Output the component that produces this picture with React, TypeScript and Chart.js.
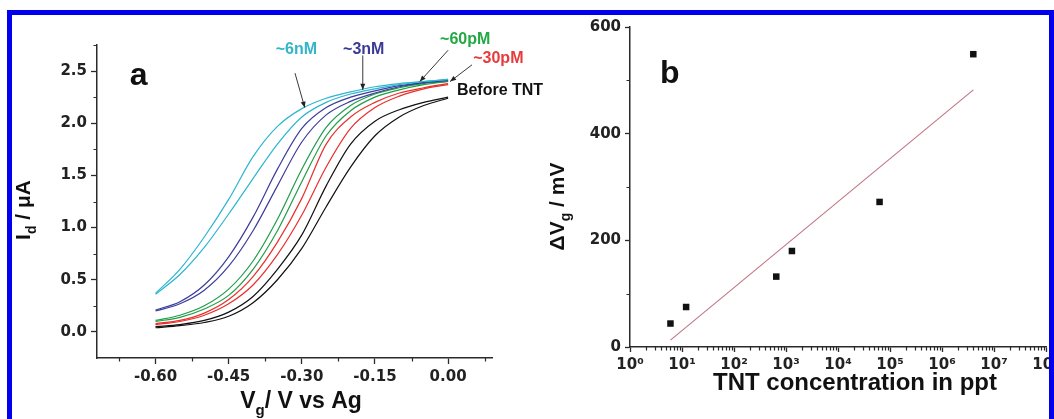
import React, { useEffect, useRef } from "react";
import { Chart, registerables } from "chart.js";

Chart.register(...registerables);

// ---------------- Panel a : transfer curves ----------------
const gateVoltage = [-0.6, -0.55, -0.5, -0.45, -0.4, -0.35, -0.3, -0.25, -0.2, -0.15, -0.1, -0.05, 0.0];
const nM6First = [0.37, 0.60, 0.91, 1.27, 1.68, 1.97, 2.14, 2.24, 2.30, 2.35, 2.38, 2.40, 2.42];
const nM6Second = [0.36, 0.55, 0.81, 1.13, 1.47, 1.80, 2.06, 2.20, 2.28, 2.33, 2.37, 2.40, 2.42];
const nM3First = [0.21, 0.29, 0.45, 0.72, 1.10, 1.56, 1.95, 2.15, 2.25, 2.31, 2.36, 2.39, 2.41];
const nM3Second = [0.20, 0.27, 0.40, 0.63, 0.97, 1.40, 1.82, 2.08, 2.21, 2.29, 2.35, 2.39, 2.41];
const pM60First = [0.11, 0.16, 0.25, 0.41, 0.68, 1.08, 1.56, 1.96, 2.17, 2.28, 2.34, 2.38, 2.40];
const pM60Second = [0.10, 0.14, 0.22, 0.35, 0.60, 0.97, 1.44, 1.88, 2.12, 2.25, 2.32, 2.37, 2.40];
const pM30First = [0.08, 0.11, 0.18, 0.31, 0.53, 0.86, 1.28, 1.80, 2.06, 2.20, 2.29, 2.34, 2.38];
const pM30Second = [0.07, 0.10, 0.16, 0.27, 0.45, 0.74, 1.12, 1.58, 1.95, 2.15, 2.26, 2.33, 2.37];
const beforeFirst = [0.05, 0.07, 0.11, 0.19, 0.34, 0.60, 0.93, 1.40, 1.80, 2.02, 2.13, 2.20, 2.25];
const beforeSecond = [0.04, 0.06, 0.09, 0.15, 0.28, 0.50, 0.80, 1.20, 1.58, 1.88, 2.06, 2.17, 2.24];

const curveSeries = [nM6First, nM6Second, nM3First, nM3Second, pM60First, pM60Second, pM30First, pM30Second, beforeFirst, beforeSecond];
const curveColors = ["#2cb6cf", "#2cb6cf", "#3c3c9c", "#3c3c9c", "#1f9e48", "#1f9e48", "#e8302c", "#e8302c", "#111111", "#111111"];

const voltageTicks = [-0.6, -0.45, -0.3, -0.15, 0];
const voltageMinorTicks = [-0.675, -0.525, -0.375, -0.225, -0.075, 0.075];
const currentTicks = [0, 0.5, 1, 1.5, 2, 2.5];
const currentMinorTicks = [0.25, 0.75, 1.25, 1.75, 2.25, 2.75];

const curveLabels = ["~6nM", "~3nM", "~60pM", "~30pM", "Before TNT"];
const curveLabelColors = ["#33b5c8", "#3a3a96", "#22a845", "#e83a3a", "#111111"];
const curveLabelV = [-0.311, -0.173, 0.035, 0.103, 0.018];
const curveLabelI = [2.71, 2.71, 2.80, 2.62, 2.31];
const curveLabelAlign = ["center", "center", "center", "center", "left"];
const arrowFromV = [-0.314, -0.175, 0.0, 0.049];
const arrowFromI = [2.48, 2.65, 2.70, 2.56];
const arrowToV = [-0.294, -0.175, -0.058, 0.004];
const arrowToI = [2.15, 2.32, 2.40, 2.40];

// ---------------- Panel b : calibration ----------------
const tntConcentration = [6, 12, 650, 1300, 63000, 4000000];
const deltaVg = [44, 75, 132, 180, 272, 549];
const fitConcentration = [6, 4000000];
const fitDeltaVg = [13, 482];
const concentrationTicks = [1, 10, 100, 1e3, 1e4, 1e5, 1e6, 1e7, 1e8];
const concentrationTickLabels = ["10⁰", "10¹", "10²", "10³", "10⁴", "10⁵", "10⁶", "10⁷", "10⁸"];
const deltaVgTicks = [0, 200, 400, 600];
const deltaVgMinorTicks = [100, 300, 500];
const concentrationMinorTicks: number[] = [];
concentrationTicks.slice(0, -1).forEach((d) => {
  for (let m = 2; m <= 9; m++) concentrationMinorTicks.push(d * m);
});

const TICK_FONT = "'DejaVu Sans', sans-serif";
const TITLE_FONT = "'Liberation Sans', Arial, sans-serif";
const AXIS_COLOR = "#2a2a2a";

type Part = [string, boolean];

function drawParts(ctx: CanvasRenderingContext2D, parts: Part[], x: number, y: number, size: number, color: string, align: string) {
  const subSize = Math.round(size * 0.66);
  const widths = parts.map(([t, sub]) => {
    ctx.font = `bold ${sub ? subSize : size}px ${TITLE_FONT}`;
    return ctx.measureText(t).width;
  });
  const total = widths.reduce((s, w) => s + w, 0);
  let cx = align === "center" ? x - total / 2 : x;
  ctx.fillStyle = color;
  ctx.textAlign = "left";
  ctx.textBaseline = "alphabetic";
  parts.forEach(([t, sub], i) => {
    ctx.font = `bold ${sub ? subSize : size}px ${TITLE_FONT}`;
    ctx.fillText(t, cx, sub ? y + size * 0.3 : y);
    cx += widths[i];
  });
}

const axisDecor = {
  id: "axisDecor",
  afterDraw(chart: any, _args: any, o: any) {
    const ctx: CanvasRenderingContext2D = chart.ctx;
    const ar = chart.chartArea;
    const xs = chart.scales.x;
    const ys = chart.scales.y;
    ctx.save();
    ctx.strokeStyle = AXIS_COLOR;
    ctx.lineWidth = 1.2;
    ctx.beginPath();
    o.xMinor.forEach((v: number) => {
      const px = Math.round(xs.getPixelForValue(v)) + 0.5;
      ctx.moveTo(px, ar.bottom);
      ctx.lineTo(px, ar.bottom + o.minorLen);
    });
    o.yMinor.forEach((v: number) => {
      const py = Math.round(ys.getPixelForValue(v)) + 0.5;
      ctx.moveTo(ar.left, py);
      ctx.lineTo(ar.left - o.minorLen, py);
    });
    ctx.stroke();
    // axis titles
    drawParts(ctx, o.xTitle.parts, (ar.left + ar.right) / 2 + o.xTitle.dx, ar.bottom + o.xTitle.dy, o.xTitle.size, "#111", "center");
    ctx.save();
    ctx.translate(ar.left - o.yTitle.dx, (ar.top + ar.bottom) / 2 + o.yTitle.dy);
    ctx.rotate(-Math.PI / 2);
    drawParts(ctx, o.yTitle.parts, 0, 0, o.yTitle.size, "#111", "center");
    ctx.restore();
    // panel letter
    ctx.font = `bold 32px ${TITLE_FONT}`;
    ctx.fillStyle = "#111";
    ctx.textAlign = "left";
    ctx.textBaseline = "alphabetic";
    ctx.fillText(o.letter.text, xs.getPixelForValue(o.letter.x), ys.getPixelForValue(o.letter.y));
    ctx.restore();
  },
};

const curveAnnotations = {
  id: "curveAnnotations",
  afterDraw(chart: any) {
    const ctx: CanvasRenderingContext2D = chart.ctx;
    const xs = chart.scales.x;
    const ys = chart.scales.y;
    ctx.save();
    ctx.strokeStyle = "#222";
    ctx.fillStyle = "#222";
    ctx.lineWidth = 0.9;
    arrowFromV.forEach((_, i) => {
      const x0 = xs.getPixelForValue(arrowFromV[i]);
      const y0 = ys.getPixelForValue(arrowFromI[i]);
      const x1 = xs.getPixelForValue(arrowToV[i]);
      const y1 = ys.getPixelForValue(arrowToI[i]);
      const ang = Math.atan2(y1 - y0, x1 - x0);
      ctx.beginPath();
      ctx.moveTo(x0, y0);
      ctx.lineTo(x1, y1);
      ctx.stroke();
      ctx.beginPath();
      ctx.moveTo(x1, y1);
      ctx.lineTo(x1 - 6 * Math.cos(ang) + 2.5 * Math.sin(ang), y1 - 6 * Math.sin(ang) - 2.5 * Math.cos(ang));
      ctx.lineTo(x1 - 6 * Math.cos(ang) - 2.5 * Math.sin(ang), y1 - 6 * Math.sin(ang) + 2.5 * Math.cos(ang));
      ctx.closePath();
      ctx.fill();
    });
    ctx.font = `bold 16px ${TITLE_FONT}`;
    ctx.textBaseline = "middle";
    curveLabels.forEach((t, i) => {
      ctx.fillStyle = curveLabelColors[i];
      ctx.textAlign = curveLabelAlign[i] as CanvasTextAlign;
      ctx.fillText(t, xs.getPixelForValue(curveLabelV[i]), ys.getPixelForValue(curveLabelI[i]));
    });
    ctx.restore();
  },
};

const tickFont = { family: TICK_FONT, size: 15, weight: "bold" as const };

function makeChartA(canvas: HTMLCanvasElement) {
  return new Chart(canvas, {
    type: "line",
    data: {
      datasets: curveSeries.map((s, k) => ({
        data: gateVoltage.map((v, i) => ({ x: v, y: s[i] })),
        borderColor: curveColors[k],
        borderWidth: 1.2,
        pointRadius: 0,
        fill: false,
        cubicInterpolationMode: "monotone" as const,
      })),
    },
    options: {
      animation: false,
      responsive: false,
      maintainAspectRatio: false,
      events: [],
      layout: { padding: { left: 0, right: 68, top: 29, bottom: 0 } },
      plugins: {
        legend: { display: false },
        tooltip: { enabled: false },
        axisDecor: {
          xMinor: voltageMinorTicks,
          yMinor: currentMinorTicks,
          minorLen: 3.5,
          xTitle: { parts: [["V", false], ["g", true], ["/ V vs Ag", false]], dx: 6.5, dy: 50, size: 23 },
          yTitle: { parts: [["I", false], ["d", true], [" / μA", false]], dx: 67, dy: 8.5, size: 21 },
          letter: { text: "a", x: -0.653, y: 2.37 },
        },
      } as any,
      scales: {
        x: {
          type: "linear",
          min: -0.72,
          max: 0.09,
          grid: { drawOnChartArea: false, drawTicks: true, tickLength: 6, tickColor: AXIS_COLOR, tickWidth: 1.3 },
          border: { display: true, color: AXIS_COLOR, width: 1.5 },
          ticks: {
            autoSkip: false,
            maxRotation: 0,
            padding: 4,
            color: "#222",
            font: tickFont,
            callback: (v: any) => (Math.abs(Number(v)) < 1e-9 ? 0 : Number(v)).toFixed(2),
          },
          afterBuildTicks: (s: any) => {
            s.ticks = voltageTicks.map((v) => ({ value: v }));
          },
          afterFit: (s: any) => {
            s.height = 61;
            s.paddingLeft = 0;
            s.paddingRight = 0;
          },
        },
        y: {
          type: "linear",
          min: -0.25,
          max: 2.75,
          grid: { drawOnChartArea: false, drawTicks: true, tickLength: 6, tickColor: AXIS_COLOR, tickWidth: 1.3 },
          border: { display: true, color: AXIS_COLOR, width: 1.5 },
          ticks: {
            autoSkip: false,
            padding: 4,
            color: "#222",
            font: tickFont,
            callback: (v: any) => (Math.abs(Number(v)) < 1e-9 ? 0 : Number(v)).toFixed(1),
          },
          afterBuildTicks: (s: any) => {
            s.ticks = currentTicks.map((v) => ({ value: v }));
          },
          afterFit: (s: any) => {
            s.width = 85;
            s.paddingTop = 0;
            s.paddingBottom = 0;
          },
        },
      },
    },
    plugins: [axisDecor, curveAnnotations],
  });
}

function makeChartB(canvas: HTMLCanvasElement) {
  return new Chart(canvas, {
    type: "scatter",
    data: {
      datasets: [
        {
          data: tntConcentration.map((c, i) => ({ x: c, y: deltaVg[i] })),
          pointStyle: "rect",
          pointRadius: 4.6,
          backgroundColor: "#111",
          borderColor: "#111",
          borderWidth: 0,
          showLine: false,
        },
        {
          data: fitConcentration.map((c, i) => ({ x: c, y: fitDeltaVg[i] })),
          showLine: true,
          pointRadius: 0,
          borderColor: "#c07585",
          borderWidth: 1.1,
          fill: false,
        },
      ],
    },
    options: {
      animation: false,
      responsive: false,
      maintainAspectRatio: false,
      events: [],
      layout: { padding: { left: 0, right: 8, top: 11, bottom: 0 } },
      plugins: {
        legend: { display: false },
        tooltip: { enabled: false },
        axisDecor: {
          xMinor: concentrationMinorTicks,
          yMinor: deltaVgMinorTicks,
          minorLen: 3.5,
          xTitle: { parts: [["TNT concentration in ppt", false]], dx: 17, dy: 43, size: 24 },
          yTitle: { parts: [["ΔV", false], ["g", true], [" / mV", false]], dx: 66, dy: 19.5, size: 21 },
          letter: { text: "b", x: 3.78, y: 495 },
        },
      } as any,
      scales: {
        x: {
          type: "logarithmic",
          min: 1,
          max: 1e8,
          grid: { drawOnChartArea: false, drawTicks: true, tickLength: 5, tickColor: AXIS_COLOR, tickWidth: 1.3 },
          border: { display: true, color: AXIS_COLOR, width: 1.5 },
          ticks: {
            autoSkip: false,
            maxRotation: 0,
            padding: 4,
            color: "#222",
            font: tickFont,
            callback: (_v: any, i: number) => concentrationTickLabels[i],
          },
          afterBuildTicks: (s: any) => {
            s.ticks = concentrationTicks.map((v) => ({ value: v }));
          },
          afterFit: (s: any) => {
            s.height = 72;
            s.paddingLeft = 0;
            s.paddingRight = 0;
          },
        },
        y: {
          type: "linear",
          min: 0,
          max: 600,
          grid: { drawOnChartArea: false, drawTicks: true, tickLength: 5, tickColor: AXIS_COLOR, tickWidth: 1.3 },
          border: { display: true, color: AXIS_COLOR, width: 1.5 },
          ticks: {
            autoSkip: false,
            padding: 4,
            color: "#222",
            font: tickFont,
            callback: (v: any) => String(v),
          },
          afterBuildTicks: (s: any) => {
            s.ticks = deltaVgTicks.map((v) => ({ value: v }));
          },
          afterFit: (s: any) => {
            s.width = 90;
            s.paddingTop = 0;
            s.paddingBottom = 0;
          },
        },
      },
    },
    plugins: [axisDecor],
  });
}

export default function App() {
  const refA = useRef<HTMLCanvasElement>(null);
  const refB = useRef<HTMLCanvasElement>(null);
  useEffect(() => {
    const a = makeChartA(refA.current!);
    const b = makeChartB(refB.current!);
    return () => {
      a.destroy();
      b.destroy();
    };
  }, []);
  const blue = "#0000ee";
  return (
    <div style={{ position: "absolute", left: 0, top: 0, width: 1054, height: 419, background: "#fff", overflow: "hidden" }}>
      <canvas ref={refA} width={548} height={403} style={{ position: "absolute", left: 12, top: 16, width: 548, height: 403 }} />
      <canvas ref={refB} width={514} height={403} style={{ position: "absolute", left: 540, top: 16, width: 514, height: 403 }} />
      <div style={{ position: "absolute", left: 7, top: 10, width: 1047, height: 5, background: blue }} />
      <div style={{ position: "absolute", left: 7, top: 10, width: 5, height: 409, background: blue }} />
      <div style={{ position: "absolute", left: 1049, top: 10, width: 5, height: 409, background: blue }} />
    </div>
  );
}
